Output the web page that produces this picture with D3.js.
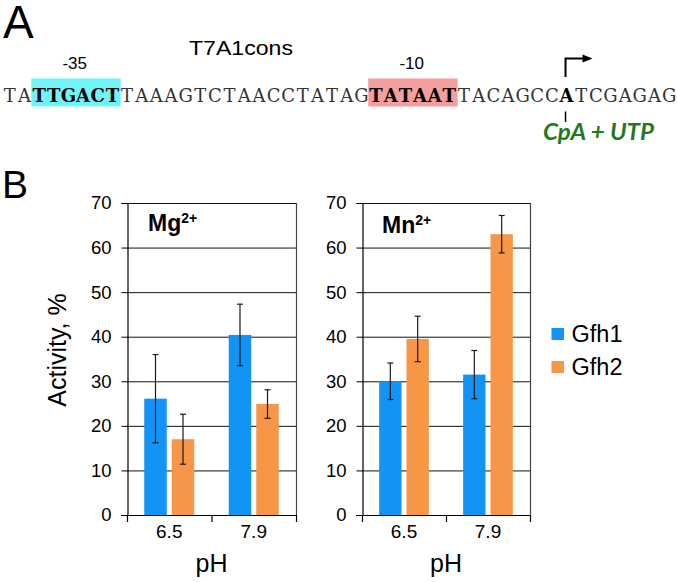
<!DOCTYPE html>
<html>
<head>
<meta charset="utf-8">
<script src="https://cdn.jsdelivr.net/npm/d3@7/dist/d3.min.js"></script>
<style>
  html, body { margin: 0; padding: 0; background: #fff; }
  svg { display: block; font-family: "Liberation Sans", Arial, sans-serif; }
</style>
</head>
<body>
<svg id="chart" width="677" height="582"></svg>
<script>
// ---------------- data ----------------
const categories = ["6.5", "7.9"];
const seriesNames = ["Gfh1", "Gfh2"];
const yTickValues = [0, 10, 20, 30, 40, 50, 60, 70];

const mgGfh1 = [26.1, 40.4];
const mgGfh1Err = [9.9, 6.9];
const mgGfh2 = [17.0, 24.9];
const mgGfh2Err = [5.6, 3.2];

const mnGfh1 = [30.0, 31.5];
const mnGfh1Err = [4.1, 5.4];
const mnGfh2 = [39.5, 63.0];
const mnGfh2Err = [5.1, 4.2];

const panelMetals = ["Mg", "Mn"];
const metalCharge = "2+";

// promoter sequence segments (role decides the styling)
const seqSegments = [
  { text: "TA", role: "plain" },
  { text: "TTGACT", role: "box35" },
  { text: "TAAAGTCTAACCTATAG", role: "plain" },
  { text: "TATAAT", role: "box10" },
  { text: "TACAGCC", role: "plain" },
  { text: "A", role: "start" },
  { text: "TCGAGAG", role: "plain" }
];
const promoterName = "T7A1cons";
const boxLabels = { box35: "-35", box10: "-10" };
const startLabel = "CpA + UTP";
const yAxisTitle = "Activity, %";
const xAxisTitle = "pH";

// ---------------- drawing ----------------
const svg = d3.select("#chart");
const colors = { Gfh1: "#1294f6", Gfh2: "#f79646" };
const SANS = "'Liberation Sans', Arial, sans-serif";

// Panel letters
svg.append("text").attr("x", 3).attr("y", 38).style("font-size", "46px").text("A");
svg.append("text").attr("x", 2).attr("y", 198).style("font-size", "39px").text("B");

// ---- Panel A: sequence ----
const chars = [];
seqSegments.forEach(seg => {
  for (const c of seg.text) chars.push({ c, role: seg.role });
});
const seqX = d3.scaleLinear().domain([0, chars.length]).range([2.5, 2.5 + 14.65 * chars.length]);
const seqBaseline = 102;

const boxFill = { box35: "#6ff5f7", box10: "#f59e9e" };
const segStart = [];
let acc = 0;
seqSegments.forEach(seg => { segStart.push(acc); acc += seg.text.length; });

seqSegments.forEach((seg, i) => {
  if (boxFill[seg.role]) {
    const xa = seqX(segStart[i]), xb = seqX(segStart[i] + seg.text.length);
    svg.append("rect")
      .attr("x", xa - 0.5).attr("y", 78.5)
      .attr("width", xb - xa + 1.5).attr("height", 28)
      .attr("fill", boxFill[seg.role]);
    svg.append("text")
      .attr("x", (xa + xb) / 2 - 1).attr("y", 69)
      .attr("text-anchor", "middle").style("font-size", "17px")
      .text(boxLabels[seg.role]);
  }
});

svg.append("g").selectAll("text").data(chars).join("text")
  .attr("x", (d, i) => seqX(i + 0.5))
  .attr("y", seqBaseline)
  .attr("text-anchor", "middle")
  .style("font-family", "'DejaVu Serif', 'Liberation Serif', serif")
  .style("font-size", "18px")
  .style("font-weight", d => d.role === "plain" ? "normal" : "bold")
  .style("fill", d => d.role === "plain" ? "#333" : "#000")
  .text(d => d.c);

svg.append("text")
  .attr("x", 189).attr("y", 55).style("font-size", "21px")
  .attr("textLength", 104).attr("lengthAdjust", "spacingAndGlyphs")
  .text(promoterName);

// transcription start arrow
const startIdx = segStart[seqSegments.findIndex(s => s.role === "start")];
const sx = seqX(startIdx + 0.5) - 1;
svg.append("path")
  .attr("d", `M${sx},77 V58.5 H${sx + 19}`)
  .attr("fill", "none").attr("stroke", "#000").attr("stroke-width", 2);
svg.append("path")
  .attr("d", `M${sx + 17},54.5 L${sx + 27},58.5 L${sx + 17},62.5 Z`)
  .attr("fill", "#000");
svg.append("line")
  .attr("x1", sx).attr("x2", sx).attr("y1", 111.5).attr("y2", 122)
  .attr("stroke", "#000").attr("stroke-width", 1.5);
svg.append("text")
  .attr("x", 543).attr("y", 140)
  .style("font-family", "Lato, 'Open Sans', sans-serif")
  .style("font-weight", "bold").style("font-style", "italic")
  .style("font-size", "22px").style("fill", "#1f7a1f")
  .attr("textLength", 111).attr("lengthAdjust", "spacingAndGlyphs")
  .text(startLabel);

// ---- Panel B: bar charts ----
const yTop = 203, yBottom = 515;
const y = d3.scaleLinear().domain([0, 70]).range([yBottom, yTop]);

const panelData = [
  { metal: panelMetals[0], x0: 127, x1: 296,
    values: [mgGfh1, mgGfh2], errs: [mgGfh1Err, mgGfh2Err], labelX: 148, labelY: 231 },
  { metal: panelMetals[1], x0: 362, x1: 530,
    values: [mnGfh1, mnGfh2], errs: [mnGfh1Err, mnGfh2Err], labelX: 382, labelY: 233 }
];

panelData.forEach(p => {
  const g = svg.append("g");
  const x = d3.scaleBand().domain(categories).range([p.x0, p.x1]).paddingInner(0).paddingOuter(0);
  const xs = d3.scaleBand().domain(seriesNames).range([0, x.bandwidth()])
    .paddingInner(0.182).paddingOuter(0.627);

  // gridlines
  g.append("g").selectAll("line").data(yTickValues.filter(v => v > 0)).join("line")
    .attr("x1", p.x0).attr("x2", p.x1)
    .attr("y1", d => y(d) + 0.5).attr("y2", d => y(d) + 0.5)
    .attr("stroke", "#111").attr("stroke-width", 1);
  // right border
  g.append("line").attr("x1", p.x1 + 0.5).attr("x2", p.x1 + 0.5)
    .attr("y1", yTop).attr("y2", yBottom).attr("stroke", "#444").attr("stroke-width", 1.2);

  // bars
  const barData = [];
  categories.forEach((c, ci) => {
    seriesNames.forEach((s, si) => {
      barData.push({ c, s, v: p.values[si][ci], e: p.errs[si][ci] });
    });
  });
  g.append("g").selectAll("rect").data(barData).join("rect")
    .attr("x", d => x(d.c) + xs(d.s))
    .attr("width", xs.bandwidth())
    .attr("y", d => y(d.v))
    .attr("height", d => y(0) - y(d.v))
    .attr("fill", d => colors[d.s]);

  // error bars
  const eg = g.append("g").attr("stroke", "#1a1a1a").attr("stroke-width", 1.2);
  barData.forEach(d => {
    const cx = x(d.c) + xs(d.s) + xs.bandwidth() / 2;
    eg.append("line").attr("x1", cx).attr("x2", cx).attr("y1", y(d.v + d.e)).attr("y2", y(d.v - d.e));
    eg.append("line").attr("x1", cx - 3).attr("x2", cx + 3).attr("y1", y(d.v + d.e)).attr("y2", y(d.v + d.e));
    eg.append("line").attr("x1", cx - 3).attr("x2", cx + 3).attr("y1", y(d.v - d.e)).attr("y2", y(d.v - d.e));
  });

  // y axis
  const ya = g.append("g").attr("transform", `translate(${p.x0 + 0.5},0)`)
    .call(d3.axisLeft(y).tickValues(yTickValues).tickSize(6).tickPadding(10).tickFormat(d3.format("d")));
  ya.select(".domain").attr("stroke", "#000").attr("stroke-width", 1.2);
  ya.selectAll(".tick line").attr("stroke", "#000");
  ya.selectAll(".tick text").style("font-size", "18.5px").style("font-family", SANS).style("fill", "#000");

  // x axis line and boundary ticks
  g.append("line").attr("x1", p.x0 - 6).attr("x2", p.x1).attr("y1", yBottom + 0.5).attr("y2", yBottom + 0.5)
    .attr("stroke", "#000").attr("stroke-width", 1.2);
  const bounds = categories.map(c => x(c)).concat([x(categories[categories.length - 1]) + x.bandwidth()]);
  g.append("g").selectAll("line").data(bounds).join("line")
    .attr("x1", d => d + 0.5).attr("x2", d => d + 0.5)
    .attr("y1", yBottom).attr("y2", yBottom + 7)
    .attr("stroke", "#000").attr("stroke-width", 1.2);
  g.append("g").selectAll("text").data(categories).join("text")
    .attr("x", d => x(d) + x.bandwidth() / 2)
    .attr("y", 538)
    .attr("text-anchor", "middle").style("font-size", "19px")
    .text(d => d);

  // x title
  g.append("text").attr("x", (p.x0 + p.x1) / 2).attr("y", 572)
    .attr("text-anchor", "middle").style("font-size", "25px").text(xAxisTitle);

  // metal label
  const ml = g.append("text").attr("x", p.labelX).attr("y", p.labelY)
    .style("font-size", "23px").style("font-weight", "bold");
  ml.append("tspan").text(p.metal);
  ml.append("tspan").style("font-size", "14px").attr("dy", -8).text(metalCharge);
});

// y axis title
svg.append("text")
  .attr("transform", "translate(66,350) rotate(-90)")
  .attr("text-anchor", "middle").style("font-size", "25px")
  .text(yAxisTitle);

// legend
const lg = svg.append("g").selectAll("g").data(seriesNames).join("g")
  .attr("transform", (d, i) => `translate(551.5,${328 + i * 33})`);
lg.append("rect").attr("width", 12.5).attr("height", 12).attr("fill", d => colors[d]);
lg.append("text").attr("x", 20).attr("y", 13.5).style("font-size", "23.5px").text(d => d);
</script>
</body>
</html>
